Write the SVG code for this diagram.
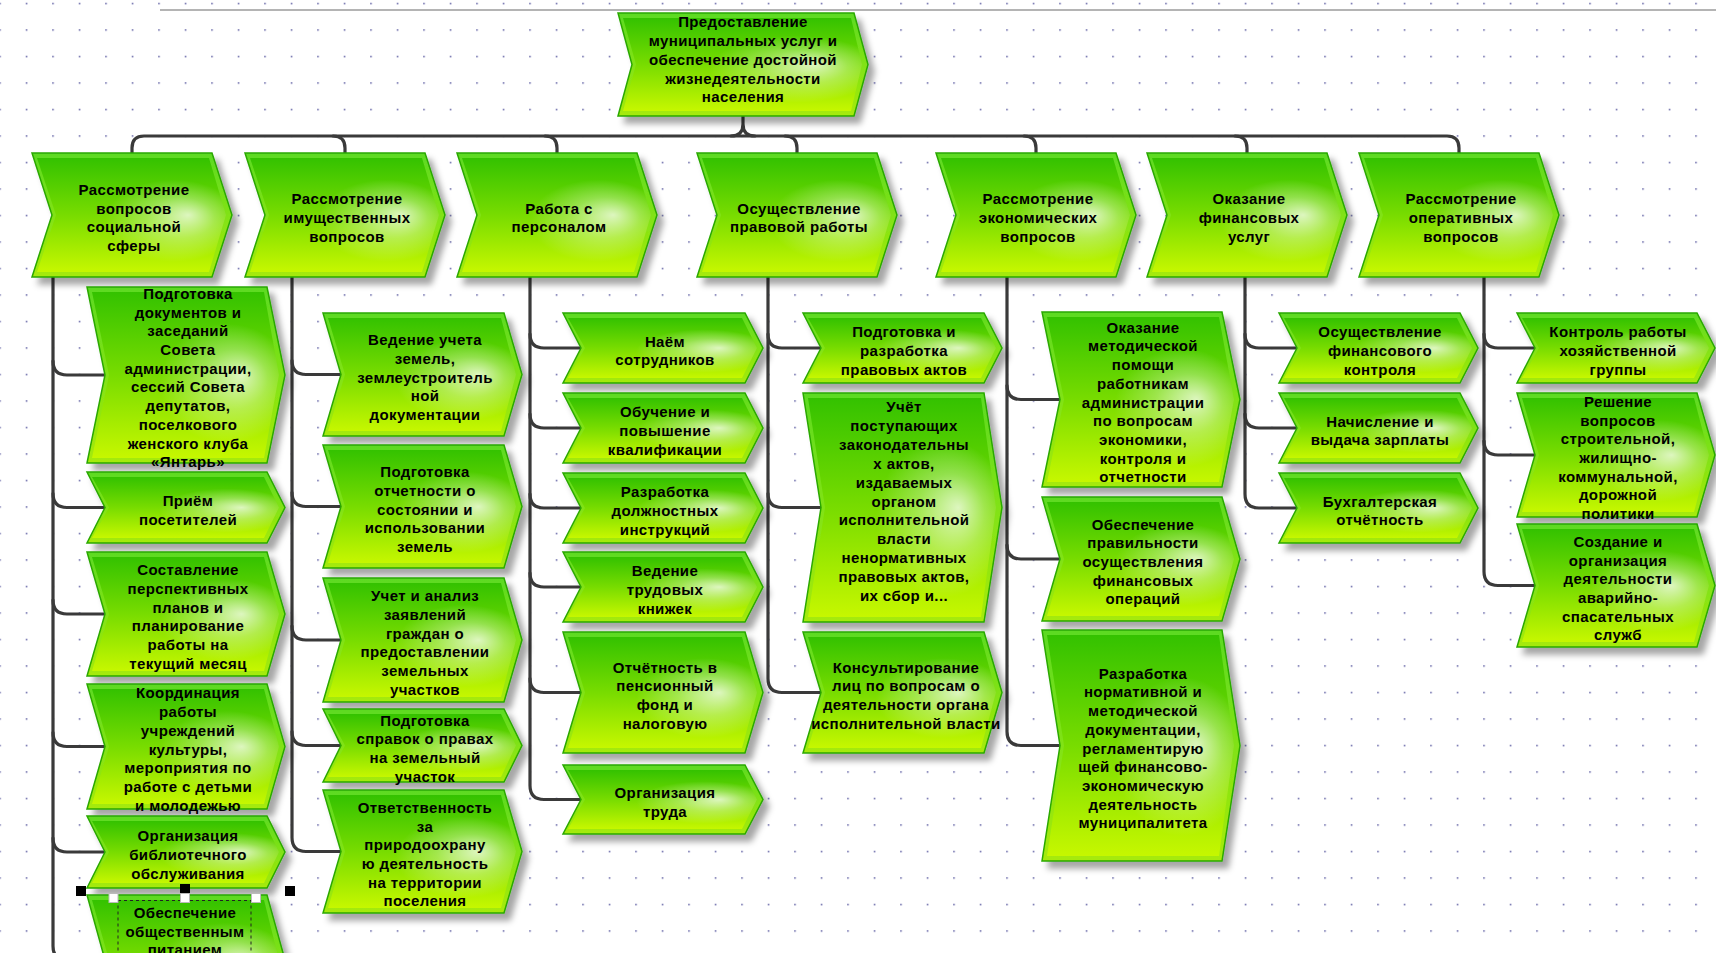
<svg xmlns="http://www.w3.org/2000/svg" width="1716" height="953" viewBox="0 0 1716 953">
<style>
  .o { fill: url(#gO); stroke: #2aa800; stroke-width: 1.5; filter: url(#sh); }
  .i { fill: url(#gI); }
  .g { fill: url(#gG); }
  .t { font-family: "Liberation Sans", Arial, sans-serif; font-weight: 700; font-size: 15px; letter-spacing: 0.4px; text-anchor: middle; fill: #000; }
  .c { fill: none; stroke: #3a3a3a; stroke-width: 3.2; stroke-linecap: round; stroke-linejoin: round; }
</style>
<defs>
  <pattern id="grid" patternUnits="userSpaceOnUse" x="-0.75" y="2.75" width="26.5" height="26.5">
    <rect x="0" y="0" width="1.5" height="1.5" fill="#5a5aa0"/>
  </pattern>
  <linearGradient id="gO" x1="0" y1="0" x2="0" y2="1">
    <stop offset="0" stop-color="#5cda22"/>
    <stop offset="1" stop-color="#a6ea08"/>
  </linearGradient>
  <linearGradient id="gI" x1="0" y1="0" x2="0" y2="1">
    <stop offset="0" stop-color="#34c200"/>
    <stop offset="0.5" stop-color="#78dc00"/>
    <stop offset="1" stop-color="#c6f700"/>
  </linearGradient>
  <radialGradient id="gG" cx="0.72" cy="0.55" fx="0.8" fy="0.5" r="0.36">
    <stop offset="0" stop-color="#ffffff" stop-opacity="0.75"/>
    <stop offset="0.5" stop-color="#ffffff" stop-opacity="0.3"/>
    <stop offset="1" stop-color="#ffffff" stop-opacity="0"/>
  </radialGradient>
  <filter id="sh" x="-10%" y="-10%" width="130%" height="140%">
    <feDropShadow dx="6" dy="7" stdDeviation="3" flood-color="#000" flood-opacity="0.35"/>
  </filter>
</defs>

<!-- canvas -->
<rect width="1716" height="953" fill="#ffffff"/>
<rect width="1716" height="953" fill="url(#grid)"/>
<rect x="160" y="9" width="1556" height="2" fill="#b4b4b4"/>

<!-- connectors -->
<g id="connectors">
  <path class="c" d="M743,116 V124 Q743,136 731,136 M743,124 Q743,136 755,136"/>
  <path class="c" d="M132,153 V148 Q132,136 144,136 H1447 Q1459,136 1459,148 V153"/>
  <path class="c" d="M333,136 Q345,136 345,148 V153 M545,136 Q557,136 557,148 V153 M785,136 Q797,136 797,148 V153 M1024,136 Q1036,136 1036,148 V153 M1235,136 Q1247,136 1247,148 V153"/>
  <!-- column 1 -->
  <path class="c" d="M53,277 V946 Q53,960 67,960 H105"/>
  <path class="c" d="M53,361 Q53,375 67,375 H105 M53,493.5 Q53,507.5 67,507.5 H105 M53,600 Q53,614 67,614 H105 M53,732.5 Q53,746.5 67,746.5 H105 M53,838 Q53,852 67,852 H105"/>
  <!-- column 2 -->
  <path class="c" d="M292,277 V837.5 Q292,851.5 306,851.5 H341"/>
  <path class="c" d="M292,360.5 Q292,374.5 306,374.5 H341 M292,492.5 Q292,506.5 306,506.5 H341 M292,626 Q292,640 306,640 H341 M292,731.5 Q292,745.5 306,745.5 H341"/>
  <!-- column 3 -->
  <path class="c" d="M530,277 V785.5 Q530,799.5 544,799.5 H581"/>
  <path class="c" d="M530,334 Q530,348 544,348 H581 M530,414 Q530,428 544,428 H581 M530,494 Q530,508 544,508 H581 M530,573 Q530,587 544,587 H581 M530,678.5 Q530,692.5 544,692.5 H581"/>
  <!-- column 4 -->
  <path class="c" d="M768,277 V678.5 Q768,692.5 782,692.5 H821"/>
  <path class="c" d="M768,334 Q768,348 782,348 H821 M768,493.5 Q768,507.5 782,507.5 H821"/>
  <!-- column 5 -->
  <path class="c" d="M1007,277 V731.5 Q1007,745.5 1021,745.5 H1060"/>
  <path class="c" d="M1007,385.5 Q1007,399.5 1021,399.5 H1060 M1007,545 Q1007,559 1021,559 H1060"/>
  <!-- column 6 -->
  <path class="c" d="M1245,277 V494 Q1245,508 1259,508 H1297"/>
  <path class="c" d="M1245,334 Q1245,348 1259,348 H1297 M1245,414 Q1245,428 1259,428 H1297"/>
  <!-- column 7 -->
  <path class="c" d="M1484,277 V571.5 Q1484,585.5 1498,585.5 H1535"/>
  <path class="c" d="M1484,334 Q1484,348 1498,348 H1535 M1484,441 Q1484,455 1498,455 H1535"/>
</g>

<!-- root -->
<g id="root">
  <polygon class="o" points="618,13 854,13 868,64.5 854,116 618,116 632,64.5"/>
  <polygon class="i" points="623,18 851,18 862,64.5 851,111 623,111 636,64.5"/>
  <polygon class="g" points="623,18 851,18 862,64.5 851,111 623,111 636,64.5"/>
  <text class="t"><tspan x="743" y="27">Предоставление</tspan><tspan x="743" y="46">муниципальных услуг и</tspan><tspan x="743" y="65">обеспечение достойной</tspan><tspan x="743" y="83.5">жизнедеятельности</tspan><tspan x="743" y="102">населения</tspan></text>
</g>

<!-- level 1 -->
<g id="social">
  <polygon class="o" points="32,153 212,153 232,215 212,277 32,277 52,215"/>
  <polygon class="i" points="37,158 209,158 226,215 209,272 37,272 56,215"/>
  <polygon class="g" points="37,158 209,158 226,215 209,272 37,272 56,215"/>
  <text class="t"><tspan x="134" y="195">Рассмотрение</tspan><tspan x="134" y="213.7">вопросов</tspan><tspan x="134" y="232.4">социальной</tspan><tspan x="134" y="251.1">сферы</tspan></text>
</g>
<g id="property">
  <polygon class="o" points="245,153 425,153 445,215 425,277 245,277 265,215"/>
  <polygon class="i" points="250,158 422,158 439,215 422,272 250,272 269,215"/>
  <polygon class="g" points="250,158 422,158 439,215 422,272 250,272 269,215"/>
  <text class="t"><tspan x="347" y="204.3">Рассмотрение</tspan><tspan x="347" y="223">имущественных</tspan><tspan x="347" y="241.7">вопросов</tspan></text>
</g>
<g id="staff">
  <polygon class="o" points="457,153 637,153 657,215 637,277 457,277 477,215"/>
  <polygon class="i" points="462,158 634,158 651,215 634,272 462,272 481,215"/>
  <polygon class="g" points="462,158 634,158 651,215 634,272 462,272 481,215"/>
  <text class="t"><tspan x="559" y="213.6">Работа с</tspan><tspan x="559" y="232.3">персоналом</tspan></text>
</g>
<g id="legal">
  <polygon class="o" points="697,153 877,153 897,215 877,277 697,277 717,215"/>
  <polygon class="i" points="702,158 874,158 891,215 874,272 702,272 721,215"/>
  <polygon class="g" points="702,158 874,158 891,215 874,272 702,272 721,215"/>
  <text class="t"><tspan x="799" y="213.6">Осуществление</tspan><tspan x="799" y="232.3">правовой работы</tspan></text>
</g>
<g id="economic">
  <polygon class="o" points="936,153 1116,153 1136,215 1116,277 936,277 956,215"/>
  <polygon class="i" points="941,158 1113,158 1130,215 1113,272 941,272 960,215"/>
  <polygon class="g" points="941,158 1113,158 1130,215 1113,272 941,272 960,215"/>
  <text class="t"><tspan x="1038" y="204.3">Рассмотрение</tspan><tspan x="1038" y="223">экономических</tspan><tspan x="1038" y="241.7">вопросов</tspan></text>
</g>
<g id="finance">
  <polygon class="o" points="1147,153 1327,153 1347,215 1327,277 1147,277 1167,215"/>
  <polygon class="i" points="1152,158 1324,158 1341,215 1324,272 1152,272 1171,215"/>
  <polygon class="g" points="1152,158 1324,158 1341,215 1324,272 1152,272 1171,215"/>
  <text class="t"><tspan x="1249" y="204.3">Оказание</tspan><tspan x="1249" y="223">финансовых</tspan><tspan x="1249" y="241.7">услуг</tspan></text>
</g>
<g id="operative">
  <polygon class="o" points="1359,153 1539,153 1559,215 1539,277 1359,277 1379,215"/>
  <polygon class="i" points="1364,158 1536,158 1553,215 1536,272 1364,272 1383,215"/>
  <polygon class="g" points="1364,158 1536,158 1553,215 1536,272 1364,272 1383,215"/>
  <text class="t"><tspan x="1461" y="204.3">Рассмотрение</tspan><tspan x="1461" y="223">оперативных</tspan><tspan x="1461" y="241.7">вопросов</tspan></text>
</g>

<!-- column 1 -->
<g id="c1a">
  <polygon class="o" points="87,287 267,287 285,375 267,463 87,463 105,375"/>
  <polygon class="i" points="92,292 264,292 279,375 264,458 92,458 109,375"/>
  <polygon class="g" points="92,292 264,292 279,375 264,458 92,458 109,375"/>
  <text class="t"><tspan x="188" y="298.9">Подготовка</tspan><tspan x="188" y="317.6">документов и</tspan><tspan x="188" y="336.3">заседаний</tspan><tspan x="188" y="355">Совета</tspan><tspan x="188" y="373.7">администрации,</tspan><tspan x="188" y="392.4">сессий Совета</tspan><tspan x="188" y="411.1">депутатов,</tspan><tspan x="188" y="429.8">поселкового</tspan><tspan x="188" y="448.5">женского клуба</tspan><tspan x="188" y="467.2">«Янтарь»</tspan></text>
</g>
<g id="c1b">
  <polygon class="o" points="87,472 267,472 285,507.5 267,543 87,543 105,507.5"/>
  <polygon class="i" points="92,477 264,477 279,507.5 264,538 92,538 109,507.5"/>
  <polygon class="g" points="92,477 264,477 279,507.5 264,538 92,538 109,507.5"/>
  <text class="t"><tspan x="188" y="506.2">Приём</tspan><tspan x="188" y="524.9">посетителей</tspan></text>
</g>
<g id="c1c">
  <polygon class="o" points="87,552 267,552 285,614 267,676 87,676 105,614"/>
  <polygon class="i" points="92,557 264,557 279,614 264,671 92,671 109,614"/>
  <polygon class="g" points="92,557 264,557 279,614 264,671 92,671 109,614"/>
  <text class="t"><tspan x="188" y="575.3">Составление</tspan><tspan x="188" y="594">перспективных</tspan><tspan x="188" y="612.7">планов и</tspan><tspan x="188" y="631.4">планирование</tspan><tspan x="188" y="650.1">работы на</tspan><tspan x="188" y="668.8">текущий месяц</tspan></text>
</g>
<g id="c1d">
  <polygon class="o" points="87,684 267,684 285,746.5 267,809 87,809 105,746.5"/>
  <polygon class="i" points="92,689 264,689 279,746.5 264,804 92,804 109,746.5"/>
  <polygon class="g" points="92,689 264,689 279,746.5 264,804 92,804 109,746.5"/>
  <text class="t"><tspan x="188" y="698.4">Координация</tspan><tspan x="188" y="717.1">работы</tspan><tspan x="188" y="735.8">учреждений</tspan><tspan x="188" y="754.5">культуры,</tspan><tspan x="188" y="773.2">мероприятия по</tspan><tspan x="188" y="791.9">работе с детьми</tspan><tspan x="188" y="810.6">и молодежью</tspan></text>
</g>
<g id="c1e">
  <polygon class="o" points="87,816 267,816 285,852 267,888 87,888 105,852"/>
  <polygon class="i" points="92,821 264,821 279,852 264,883 92,883 109,852"/>
  <polygon class="g" points="92,821 264,821 279,852 264,883 92,883 109,852"/>
  <text class="t"><tspan x="188" y="841.3">Организация</tspan><tspan x="188" y="860">библиотечного</tspan><tspan x="188" y="878.7">обслуживания</tspan></text>
</g>
<g id="c1f">
  <polygon class="o" points="87,895 267,895 285,960 267,1025 87,1025 105,960"/>
  <polygon class="i" points="92,900 264,900 279,960 264,1020 92,1020 109,960"/>
  <polygon class="g" points="92,900 264,900 279,960 264,1020 92,1020 109,960"/>
  <text class="t"><tspan x="185" y="918">Обеспечение</tspan><tspan x="185" y="936.7">общественным</tspan><tspan x="185" y="955.4">питанием</tspan></text>
</g>
<!-- selection frame on the last item -->
<g id="selection">
  <rect x="118" y="900.5" width="133" height="60" fill="none" stroke="#222" stroke-width="1" stroke-dasharray="3,3"/>
  <rect x="76" y="886" width="10" height="10" fill="#000"/>
  <rect x="180" y="884" width="10" height="9" fill="#000"/>
  <rect x="285" y="886" width="10" height="10" fill="#000"/>
  <rect x="109" y="893.5" width="9" height="9" fill="#fff" stroke="#bbb" stroke-width="1"/>
  <rect x="180.5" y="893.5" width="9" height="9" fill="#fff" stroke="#bbb" stroke-width="1"/>
  <rect x="251.5" y="893.5" width="9" height="9" fill="#fff" stroke="#bbb" stroke-width="1"/>
</g>

<!-- column 2 -->
<g id="c2a">
  <polygon class="o" points="323,313 504,313 522,374.5 504,436 323,436 341,374.5"/>
  <polygon class="i" points="328,318 501,318 516,374.5 501,431 328,431 345,374.5"/>
  <polygon class="g" points="328,318 501,318 516,374.5 501,431 328,431 345,374.5"/>
  <text class="t"><tspan x="425" y="345.1">Ведение учета</tspan><tspan x="425" y="363.8">земель,</tspan><tspan x="425" y="382.5">землеустроитель</tspan><tspan x="425" y="401.2">ной</tspan><tspan x="425" y="419.9">документации</tspan></text>
</g>
<g id="c2b">
  <polygon class="o" points="323,445 504,445 522,506.5 504,568 323,568 341,506.5"/>
  <polygon class="i" points="328,450 501,450 516,506.5 501,563 328,563 345,506.5"/>
  <polygon class="g" points="328,450 501,450 516,506.5 501,563 328,563 345,506.5"/>
  <text class="t"><tspan x="425" y="477.1">Подготовка</tspan><tspan x="425" y="495.8">отчетности о</tspan><tspan x="425" y="514.5">состоянии и</tspan><tspan x="425" y="533.2">использовании</tspan><tspan x="425" y="551.9">земель</tspan></text>
</g>
<g id="c2c">
  <polygon class="o" points="323,578 504,578 522,640 504,702 323,702 341,640"/>
  <polygon class="i" points="328,583 501,583 516,640 501,697 328,697 345,640"/>
  <polygon class="g" points="328,583 501,583 516,640 501,697 328,697 345,640"/>
  <text class="t"><tspan x="425" y="601.3">Учет и анализ</tspan><tspan x="425" y="620">заявлений</tspan><tspan x="425" y="638.7">граждан о</tspan><tspan x="425" y="657.4">предоставлении</tspan><tspan x="425" y="676.1">земельных</tspan><tspan x="425" y="694.8">участков</tspan></text>
</g>
<g id="c2d">
  <polygon class="o" points="323,709 504,709 522,745.5 504,782 323,782 341,745.5"/>
  <polygon class="i" points="328,714 501,714 516,745.5 501,777 328,777 345,745.5"/>
  <polygon class="g" points="328,714 501,714 516,745.5 501,777 328,777 345,745.5"/>
  <text class="t"><tspan x="425" y="725.5">Подготовка</tspan><tspan x="425" y="744.2">справок о правах</tspan><tspan x="425" y="762.9">на земельный</tspan><tspan x="425" y="781.6">участок</tspan></text>
</g>
<g id="c2e">
  <polygon class="o" points="323,790 504,790 522,851.5 504,913 323,913 341,851.5"/>
  <polygon class="i" points="328,795 501,795 516,851.5 501,908 328,908 345,851.5"/>
  <polygon class="g" points="328,795 501,795 516,851.5 501,908 328,908 345,851.5"/>
  <text class="t"><tspan x="425" y="812.8">Ответственность</tspan><tspan x="425" y="831.5">за</tspan><tspan x="425" y="850.2">природоохрану</tspan><tspan x="425" y="868.9">ю деятельность</tspan><tspan x="425" y="887.6">на территории</tspan><tspan x="425" y="906.3">поселения</tspan></text>
</g>

<!-- column 3 -->
<g id="c3a">
  <polygon class="o" points="563,313 745,313 763,348 745,383 563,383 581,348"/>
  <polygon class="i" points="568,318 742,318 757,348 742,378 568,378 585,348"/>
  <polygon class="g" points="568,318 742,318 757,348 742,378 568,378 585,348"/>
  <text class="t"><tspan x="665" y="346.7">Наём</tspan><tspan x="665" y="365.4">сотрудников</tspan></text>
</g>
<g id="c3b">
  <polygon class="o" points="563,393 745,393 763,428 745,463 563,463 581,428"/>
  <polygon class="i" points="568,398 742,398 757,428 742,458 568,458 585,428"/>
  <polygon class="g" points="568,398 742,398 757,428 742,458 568,458 585,428"/>
  <text class="t"><tspan x="665" y="417.3">Обучение и</tspan><tspan x="665" y="436">повышение</tspan><tspan x="665" y="454.7">квалификации</tspan></text>
</g>
<g id="c3c">
  <polygon class="o" points="563,473 745,473 763,508 745,543 563,543 581,508"/>
  <polygon class="i" points="568,478 742,478 757,508 742,538 568,538 585,508"/>
  <polygon class="g" points="568,478 742,478 757,508 742,538 568,538 585,508"/>
  <text class="t"><tspan x="665" y="497.3">Разработка</tspan><tspan x="665" y="516">должностных</tspan><tspan x="665" y="534.7">инструкций</tspan></text>
</g>
<g id="c3d">
  <polygon class="o" points="563,552 745,552 763,587 745,622 563,622 581,587"/>
  <polygon class="i" points="568,557 742,557 757,587 742,617 568,617 585,587"/>
  <polygon class="g" points="568,557 742,557 757,587 742,617 568,617 585,587"/>
  <text class="t"><tspan x="665" y="576.3">Ведение</tspan><tspan x="665" y="595">трудовых</tspan><tspan x="665" y="613.7">книжек</tspan></text>
</g>
<g id="c3e">
  <polygon class="o" points="563,632 745,632 763,692.5 745,753 563,753 581,692.5"/>
  <polygon class="i" points="568,637 742,637 757,692.5 742,748 568,748 585,692.5"/>
  <polygon class="g" points="568,637 742,637 757,692.5 742,748 568,748 585,692.5"/>
  <text class="t"><tspan x="665" y="672.5">Отчётность в</tspan><tspan x="665" y="691.2">пенсионный</tspan><tspan x="665" y="709.9">фонд и</tspan><tspan x="665" y="728.6">налоговую</tspan></text>
</g>
<g id="c3f">
  <polygon class="o" points="563,765 745,765 763,799.5 745,834 563,834 581,799.5"/>
  <polygon class="i" points="568,770 742,770 757,799.5 742,829 568,829 585,799.5"/>
  <polygon class="g" points="568,770 742,770 757,799.5 742,829 568,829 585,799.5"/>
  <text class="t"><tspan x="665" y="798.2">Организация</tspan><tspan x="665" y="816.9">труда</tspan></text>
</g>

<!-- column 4 -->
<g id="c4a">
  <polygon class="o" points="803,313 984,313 1002,348 984,383 803,383 821,348"/>
  <polygon class="i" points="808,318 981,318 996,348 981,378 808,378 825,348"/>
  <polygon class="g" points="808,318 981,318 996,348 981,378 808,378 825,348"/>
  <text class="t"><tspan x="904" y="337.3">Подготовка и</tspan><tspan x="904" y="356">разработка</tspan><tspan x="904" y="374.7">правовых актов</tspan></text>
</g>
<g id="c4b">
  <polygon class="o" points="803,393 984,393 1002,507.5 984,622 803,622 821,507.5"/>
  <polygon class="i" points="808,398 981,398 996,507.5 981,617 808,617 825,507.5"/>
  <polygon class="g" points="808,398 981,398 996,507.5 981,617 808,617 825,507.5"/>
  <text class="t"><tspan x="904" y="412">Учёт</tspan><tspan x="904" y="430.9">поступающих</tspan><tspan x="904" y="449.8">законодательны</tspan><tspan x="904" y="468.7">х актов,</tspan><tspan x="904" y="487.6">издаваемых</tspan><tspan x="904" y="506.5">органом</tspan><tspan x="904" y="525.4">исполнительной</tspan><tspan x="904" y="544.3">власти</tspan><tspan x="904" y="563.2">ненормативных</tspan><tspan x="904" y="582.1">правовых актов,</tspan><tspan x="904" y="601">их сбор и...</tspan></text>
</g>
<g id="c4c">
  <polygon class="o" points="803,632 984,632 1002,692.5 984,753 803,753 821,692.5"/>
  <polygon class="i" points="808,637 981,637 996,692.5 981,748 808,748 825,692.5"/>
  <polygon class="g" points="808,637 981,637 996,692.5 981,748 808,748 825,692.5"/>
  <text class="t"><tspan x="906" y="672.5">Консультирование</tspan><tspan x="906" y="691.2">лиц по вопросам о</tspan><tspan x="906" y="709.9">деятельности органа</tspan><tspan x="906" y="728.6">исполнительной власти</tspan></text>
</g>

<!-- column 5 -->
<g id="c5a">
  <polygon class="o" points="1042,312 1222,312 1240,399.5 1222,487 1042,487 1060,399.5"/>
  <polygon class="i" points="1047,317 1219,317 1234,399.5 1219,482 1047,482 1064,399.5"/>
  <polygon class="g" points="1047,317 1219,317 1234,399.5 1219,482 1047,482 1064,399.5"/>
  <text class="t"><tspan x="1143" y="332.7">Оказание</tspan><tspan x="1143" y="351.4">методической</tspan><tspan x="1143" y="370.1">помощи</tspan><tspan x="1143" y="388.8">работникам</tspan><tspan x="1143" y="407.5">администрации</tspan><tspan x="1143" y="426.2">по вопросам</tspan><tspan x="1143" y="444.9">экономики,</tspan><tspan x="1143" y="463.6">контроля и</tspan><tspan x="1143" y="482.3">отчетности</tspan></text>
</g>
<g id="c5b">
  <polygon class="o" points="1042,497 1222,497 1240,559 1222,621 1042,621 1060,559"/>
  <polygon class="i" points="1047,502 1219,502 1234,559 1219,616 1047,616 1064,559"/>
  <polygon class="g" points="1047,502 1219,502 1234,559 1219,616 1047,616 1064,559"/>
  <text class="t"><tspan x="1143" y="529.6">Обеспечение</tspan><tspan x="1143" y="548.3">правильности</tspan><tspan x="1143" y="567">осуществления</tspan><tspan x="1143" y="585.7">финансовых</tspan><tspan x="1143" y="604.4">операций</tspan></text>
</g>
<g id="c5c">
  <polygon class="o" points="1042,630 1222,630 1240,745.5 1222,861 1042,861 1060,745.5"/>
  <polygon class="i" points="1047,635 1219,635 1234,745.5 1219,856 1047,856 1064,745.5"/>
  <polygon class="g" points="1047,635 1219,635 1234,745.5 1219,856 1047,856 1064,745.5"/>
  <text class="t"><tspan x="1143" y="678.7">Разработка</tspan><tspan x="1143" y="697.4">нормативной и</tspan><tspan x="1143" y="716.1">методической</tspan><tspan x="1143" y="734.8">документации,</tspan><tspan x="1143" y="753.5">регламентирую</tspan><tspan x="1143" y="772.2">щей финансово-</tspan><tspan x="1143" y="790.9">экономическую</tspan><tspan x="1143" y="809.6">деятельность</tspan><tspan x="1143" y="828.3">муниципалитета</tspan></text>
</g>

<!-- column 6 -->
<g id="c6a">
  <polygon class="o" points="1279,313 1460,313 1478,348 1460,383 1279,383 1297,348"/>
  <polygon class="i" points="1284,318 1457,318 1472,348 1457,378 1284,378 1301,348"/>
  <polygon class="g" points="1284,318 1457,318 1472,348 1457,378 1284,378 1301,348"/>
  <text class="t"><tspan x="1380" y="337.3">Осуществление</tspan><tspan x="1380" y="356">финансового</tspan><tspan x="1380" y="374.7">контроля</tspan></text>
</g>
<g id="c6b">
  <polygon class="o" points="1279,393 1460,393 1478,428 1460,463 1279,463 1297,428"/>
  <polygon class="i" points="1284,398 1457,398 1472,428 1457,458 1284,458 1301,428"/>
  <polygon class="g" points="1284,398 1457,398 1472,428 1457,458 1284,458 1301,428"/>
  <text class="t"><tspan x="1380" y="426.7">Начисление и</tspan><tspan x="1380" y="445.4">выдача зарплаты</tspan></text>
</g>
<g id="c6c">
  <polygon class="o" points="1279,473 1460,473 1478,508 1460,543 1279,543 1297,508"/>
  <polygon class="i" points="1284,478 1457,478 1472,508 1457,538 1284,538 1301,508"/>
  <polygon class="g" points="1284,478 1457,478 1472,508 1457,538 1284,538 1301,508"/>
  <text class="t"><tspan x="1380" y="506.7">Бухгалтерская</tspan><tspan x="1380" y="525.4">отчётность</tspan></text>
</g>

<!-- column 7 -->
<g id="c7a">
  <polygon class="o" points="1517,313 1697,313 1715,348 1697,383 1517,383 1535,348"/>
  <polygon class="i" points="1522,318 1694,318 1709,348 1694,378 1522,378 1539,348"/>
  <polygon class="g" points="1522,318 1694,318 1709,348 1694,378 1522,378 1539,348"/>
  <text class="t"><tspan x="1618" y="337.3">Контроль работы</tspan><tspan x="1618" y="356">хозяйственной</tspan><tspan x="1618" y="374.7">группы</tspan></text>
</g>
<g id="c7b">
  <polygon class="o" points="1517,393 1697,393 1715,455 1697,517 1517,517 1535,455"/>
  <polygon class="i" points="1522,398 1694,398 1709,455 1694,512 1522,512 1539,455"/>
  <polygon class="g" points="1522,398 1694,398 1709,455 1694,512 1522,512 1539,455"/>
  <text class="t"><tspan x="1618" y="406.9">Решение</tspan><tspan x="1618" y="425.6">вопросов</tspan><tspan x="1618" y="444.3">строительной,</tspan><tspan x="1618" y="463">жилищно-</tspan><tspan x="1618" y="481.7">коммунальной,</tspan><tspan x="1618" y="500.4">дорожной</tspan><tspan x="1618" y="519.1">политики</tspan></text>
</g>
<g id="c7c">
  <polygon class="o" points="1517,524 1697,524 1715,585.5 1697,647 1517,647 1535,585.5"/>
  <polygon class="i" points="1522,529 1694,529 1709,585.5 1694,642 1522,642 1539,585.5"/>
  <polygon class="g" points="1522,529 1694,529 1709,585.5 1694,642 1522,642 1539,585.5"/>
  <text class="t"><tspan x="1618" y="546.8">Создание и</tspan><tspan x="1618" y="565.5">организация</tspan><tspan x="1618" y="584.2">деятельности</tspan><tspan x="1618" y="602.9">аварийно-</tspan><tspan x="1618" y="621.6">спасательных</tspan><tspan x="1618" y="640.3">служб</tspan></text>
</g>
</svg>
